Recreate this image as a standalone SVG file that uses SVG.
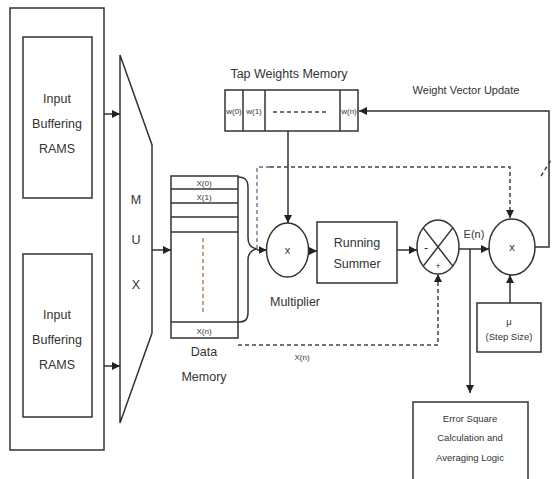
<svg xmlns="http://www.w3.org/2000/svg" width="552" height="479" viewBox="0 0 552 479">
<defs>
<style>
.s{fill:none;stroke:#333;stroke-width:1.5}
.w{fill:#fff;stroke:#333;stroke-width:1.5}
.d{fill:none;stroke:#444;stroke-width:1.5;stroke-dasharray:4 3}
.dp{fill:none;stroke:#7a5a8a;stroke-width:1.3;stroke-dasharray:4 3}
.dr{fill:none;stroke:#a0603a;stroke-width:1.2;stroke-dasharray:4 3}
text{font-family:"Liberation Sans",Arial,sans-serif;fill:#333;text-anchor:middle}
.t12{font-size:12.5px}
.t11{font-size:11px}
.t9{font-size:9.5px}
.t8{font-size:8px}
</style>
<marker id="ah" viewBox="0 0 10 10" refX="10" refY="5" markerWidth="8" markerHeight="8" markerUnits="userSpaceOnUse" orient="auto">
<path d="M0,0 L10,5 L0,10 z" fill="#222"/>
</marker>
</defs>
<rect width="552" height="479" fill="#fff"/>

<g id="input-buffers">
<rect class="s" x="10" y="8" width="94" height="442"/>
</g>
<g id="ram1">
<rect class="s" x="23" y="37" width="69" height="161"/>
<text class="t12" x="57" y="103">Input</text>
<text class="t12" x="57" y="128">Buffering</text>
<text class="t12" x="57" y="153">RAMS</text>
</g>
<g id="ram2">
<rect class="s" x="23" y="254" width="69" height="163"/>
<text class="t12" x="57" y="319">Input</text>
<text class="t12" x="57" y="344">Buffering</text>
<text class="t12" x="57" y="369">RAMS</text>
</g>
<g id="mux">
<path class="s" d="M120,55 L152,145 L152,333 L120,423 Z"/>
<text class="t12" x="136" y="204">M</text>
<text class="t12" x="136" y="244">U</text>
<text class="t12" x="136" y="289">X</text>
</g>
<g id="data-memory">
<rect class="s" x="171" y="176" width="67" height="162"/>
<line class="s" x1="171" y1="189" x2="238" y2="189"/>
<line class="s" x1="171" y1="203" x2="238" y2="203"/>
<line class="s" x1="171" y1="217" x2="238" y2="217"/>
<line class="s" x1="171" y1="232" x2="238" y2="232"/>
<line class="s" x1="171" y1="322" x2="238" y2="322"/>
<line class="dr" x1="203" y1="238" x2="203" y2="314"/>
<text class="t8" x="204" y="186">X(0)</text>
<text class="t8" x="204" y="200">X(1)</text>
<text class="t8" x="204" y="334">X(n)</text>
<text class="t12" x="204" y="356">Data</text>
<text class="t12" x="204" y="381">Memory</text>
</g>
<g id="tap-weights">
<text class="t12" x="289" y="78">Tap Weights Memory</text>
<rect class="s" x="225" y="90" width="133" height="41"/>
<line class="s" x1="243" y1="90" x2="243" y2="131"/>
<line class="s" x1="265" y1="90" x2="265" y2="131"/>
<line class="s" x1="340" y1="90" x2="340" y2="131"/>
<line class="d" x1="273" y1="112" x2="326" y2="112" stroke-dasharray="3.5 2.5"/>
<text class="t8" x="234" y="114">w(0)</text>
<text class="t8" x="254" y="114">w(1)</text>
<text class="t8" x="349" y="114">w(n)</text>
</g>
<g id="multiplier">
<ellipse class="s" cx="287.5" cy="250" rx="21" ry="27"/>
<text class="t11" x="287.5" y="254">x</text>
<text class="t12" x="295" y="306">Multiplier</text>
</g>
<g id="running-summer">
<rect class="s" x="317" y="222" width="80" height="61"/>
<text class="t12" x="357" y="247">Running</text>
<text class="t12" x="357" y="268">Summer</text>
</g>
<g id="subtractor">
<ellipse class="s" cx="438" cy="247" rx="21" ry="27"/>
<line class="s" x1="423.2" y1="227.9" x2="452.8" y2="266.1"/>
<line class="s" x1="452.8" y1="227.9" x2="423.2" y2="266.1"/>
<text class="t12" x="426" y="252">-</text>
<text class="t9" x="438" y="269">+</text>
</g>
<g id="update-multiplier">
<ellipse class="s" cx="512" cy="247" rx="23" ry="28"/>
<text class="t11" x="512" y="251">x</text>
<text class="t11" x="474" y="238">E(n)</text>
</g>
<g id="step-size">
<rect class="s" x="477" y="303" width="64" height="49"/>
<text class="t9" x="509" y="325">μ</text>
<text class="t9" x="509" y="340">(Step Size)</text>
</g>
<g id="error-square">
<rect class="s" x="413" y="402" width="115" height="80"/>
<text class="t9" x="470" y="422">Error Square</text>
<text class="t9" x="470" y="441">Calculation and</text>
<text class="t9" x="470" y="461">Averaging Logic</text>
</g>
<g id="labels">
<text class="t11" x="466" y="94">Weight Vector Update</text>
<text class="t8" x="302" y="360">X(n)</text>
</g>

<g id="connectors">
<line class="s" x1="104" y1="114" x2="120" y2="114" marker-end="url(#ah)"/>
<line class="s" x1="104" y1="366" x2="120" y2="366" marker-end="url(#ah)"/>
<line class="s" x1="152" y1="250" x2="171" y2="250" marker-end="url(#ah)"/>
<path class="s" d="M238,177 C246,177 248,181 248,188 L248,238 C248,245 251,248 257,249 C251,250 248,253 248,260 L248,312 C248,319 246,322 238,322"/>
<line class="s" x1="257" y1="250" x2="266.5" y2="250" marker-end="url(#ah)"/>
<line class="s" x1="288" y1="131" x2="288" y2="223" marker-end="url(#ah)"/>
<line class="s" x1="308.5" y1="251" x2="317" y2="251" marker-end="url(#ah)"/>
<line class="s" x1="397" y1="250" x2="417" y2="250" marker-end="url(#ah)"/>
<line class="s" x1="459" y1="249" x2="489" y2="249" marker-end="url(#ah)"/>
<line class="s" x1="470" y1="249" x2="470" y2="393" marker-end="url(#ah)"/>
<line class="s" x1="510" y1="303" x2="510" y2="275" marker-end="url(#ah)"/>
<polyline class="s" points="535,247 549,247 549,111 359,111" marker-end="url(#ah)"/>
<line class="d" x1="541" y1="176" x2="551" y2="160" stroke-dasharray="3 2"/>
<polyline class="dp" points="257,249 257,167 270,167"/>
<polyline class="d" points="270,167 510,167 510,218" marker-end="url(#ah)"/>
<polyline class="d" points="238,345 438,345 438,274" marker-end="url(#ah)"/>
</g>
</svg>
